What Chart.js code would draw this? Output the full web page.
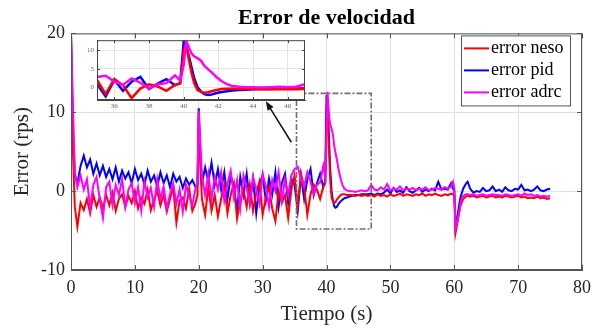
<!DOCTYPE html>
<html>
<head>
<meta charset="utf-8">
<script src="https://cdn.jsdelivr.net/npm/chart.js@4.4.1/dist/chart.umd.min.js"></script>
<style>
  body { margin: 0; background: #fff; }
  #wrap { position: relative; width: 598px; height: 326px; }
  #inset { position: absolute; left: 84px; top: 33px; }
</style>
</head>
<body>
<div id="wrap">
  <canvas id="main" width="598" height="326"></canvas>
  <canvas id="inset" width="226" height="80"></canvas>
</div>
<script>
// time base (s)
const time = [
  0, 0.3, 0.6, 1, 1.5, 2, 2.5, 3, 3.5, 4,
  4.5, 5, 5.5, 6, 6.5, 7, 7.5, 8, 8.5, 9,
  9.5, 10, 10.5, 11, 11.5, 12, 12.5, 13, 13.5, 14,
  14.5, 15, 15.5, 16, 16.5, 17, 17.5, 18, 18.5, 19,
  19.5, 19.8, 20, 20.2, 20.5, 21, 21.5, 22, 22.5, 23,
  23.5, 24, 24.5, 25, 25.5, 26, 26.5, 27, 27.5, 28,
  28.5, 29, 29.5, 30, 30.5, 31, 31.5, 32, 32.5, 33,
  33.5, 34, 34.5, 35, 35.5, 36, 36.5, 37, 37.5, 38,
  38.5, 39, 39.5, 39.8, 40, 40.15, 40.3, 40.45, 40.6, 40.8,
  41, 41.2, 41.4, 41.6, 41.9, 42.2, 42.5, 42.8, 43.2, 43.6,
  44, 44.5, 45, 45.5, 46, 46.5, 47, 47.5, 48, 48.5,
  49, 49.5, 50, 50.5, 51, 51.5, 52, 52.5, 53, 53.5,
  54, 54.5, 55, 55.5, 56, 56.5, 57, 57.5, 58, 58.5,
  59, 59.5, 59.8, 60, 60.2, 60.5, 60.8, 61, 61.4, 61.8,
  62.1, 62.5, 63, 63.5, 64, 64.5, 65, 65.5, 66, 66.5,
  67, 67.5, 68, 68.5, 69, 69.5, 70, 70.5, 71, 71.5,
  72, 72.5, 73, 73.5, 74, 74.5, 75
];

const errNeso = [
  20, 5, -2.0, -4.5, -1.5, -2.4, -1.0, -2.8, -0.5, -2.0,
  -0.8, -2.2, -0.5, -1.8, -0.2, -2.5, -1.0, -0.4, -2.0, -0.6,
  -1.5, 0.0, -2.2, -0.8, -1.6, 0.2, -2.4, -1.0, 0.0, -1.8,
  -0.5, -2.6, -1.0, 0.5, -4.0, -1.2, -0.8, -2.2, 0.3, -2.5,
  -1.5, -0.5, 10.0, 4.0, -1.0, -3.0, 0.5, -2.5, -0.5, -3.2,
  -1.0, 0.8, -2.8, -0.5, 1.0, -3.5, -1.2, 0.2, -2.0, 0.8,
  -2.5, -0.2, 1.2, -3.0, -0.8, 0.5, -2.2, -3.8, 0.0, -1.5,
  -0.5, -3.4, 0.2, 2.0, -1.9, 2.2, 0.5, -3.0, -0.4, 0.8,
  0.2, -1.0, 0.6, 1.0, 10.0, 11.8, 7.5, 4.0, 1.2, -0.8,
  -1.3, -1.5, -1.4, -1.1, -0.8, -0.5, -0.4, -0.4, -0.5, -0.5,
  -0.5, -0.6, -0.5, -0.6, -0.5, -0.6, -0.5, -0.7, -0.4, -0.6,
  -0.5, -0.7, -0.4, -0.6, -0.5, -0.3, -0.6, -0.4, -0.5, -0.6,
  -0.4, -0.5, -0.3, -0.6, -0.4, -0.5, -0.3, -0.5, -0.6, -0.4,
  -0.5, -0.3, -0.4, -0.5, -5.3, -4.0, -2.6, -1.8, -1.0, -0.7,
  -0.6, -0.7, -0.6, -0.8, -0.7, -0.6, -0.8, -0.7, -0.6, -0.8,
  -0.7, -0.8, -0.6, -0.7, -0.8, -0.7, -0.6, -0.8, -0.7, -0.9,
  -0.8, -0.9, -0.7, -0.9, -0.8, -1.0, -0.9
];

const errPid = [
  20, 8, 2.0, 1.0, 3.2, 4.5, 3.0, 4.0, 2.2, 3.5,
  2.0, 3.2, 1.8, 2.8, 1.5, 3.0, 1.2, 2.6, 1.6, 2.4,
  1.0, 2.8, 1.4, 2.2, 0.8, 2.6, 1.2, 2.0, 0.6, 2.4,
  1.0, 2.0, 0.5, 2.2, 1.2, 1.8, 0.4, 1.6, 0.8, 1.4,
  0.5, 0.8, 10.5, 5.5, 1.0, 3.0, 1.2, 3.6, 0.8, 2.8,
  0.2, 2.4, -1.0, 2.0, 0.5, -2.5, 1.8, -0.5, 2.2, -1.5,
  1.5, -2.8, 0.8, 2.0, -1.2, 1.6, -0.4, 2.4, -2.0, 1.0,
  2.2, -1.5, 1.6, 0.8, -2.5, 2.0, -1.0, 1.5, 2.8, -0.5,
  1.0, 2.2, 0.5, 1.2, 12.2, 11.0, 8.5, 5.5, 2.5, 0.0,
  -1.2, -1.9, -2.1, -2.0, -1.6, -1.3, -1.1, -0.9, -0.8, -0.7,
  -0.6, -0.5, -0.5, -0.4, -0.4, -0.4, -0.3, -0.5, -0.3, -0.4,
  -0.2, 0.2, -0.3, 0.4, -0.1, 0.1, -0.2, 0.5, 0.0, -0.2,
  0.1, 0.4, -0.1, 0.2, 0.0, 0.3, 0.1, 1.2, 0.2, 0.3,
  0.2, 1.0, 0.3, 0.2, -4.5, -3.2, -1.6, -0.7, 0.3, 0.9,
  1.2, 0.3, -0.2, 0.0, -0.1, 0.4, 0.0, 0.1, 0.6, 0.0,
  0.2, -0.1, 0.5, 0.1, 0.0, 0.3, 0.2, 0.8, 0.1, 0.2,
  0.0, 0.2, 0.6, 0.1, 0.0, 0.2, 0.3
];

const errAdrc = [
  20, 11, 2.5, 0.5, 2.0, 0.2, 1.5, -2.2, 0.8, 1.8,
  -1.0, -3.4, 0.5, 1.2, -1.8, 0.8, -0.5, 1.5, -2.0, 0.2,
  1.0, -1.5, 0.5, -2.5, 1.2, -0.8, 0.4, -2.0, 1.5, -1.0,
  0.6, -2.2, -0.4, 1.0, -1.6, 0.2, -2.6, 0.8, -0.6, -1.8,
  0.4, 1.0, 10.2, 7.0, 2.0, -0.5, 2.2, -1.0, 1.8, 0.2,
  2.4, -1.2, 1.0, 2.6, -0.8, 1.4, -2.2, 2.0, 0.4, -1.5,
  1.8, 0.2, -1.6, 2.2, 0.6, -2.0, 1.4, 0.0, 2.4, -1.2,
  1.5, -0.5, 2.0, 2.8, 3.1, 1.5, 0.6, 2.4, 1.2, -0.4,
  0.8, 1.1, 3.2, 1.8, 6.0, 12.6, 10.8, 9.2, 8.4, 7.9,
  7.2, 5.8, 4.9, 4.1, 2.7, 1.6, 0.8, 0.3, 0.1, 0.0,
  0.0, -0.1, 0.0, 0.1, 0.0, 0.1, 0.8, 0.2, 0.1, 0.5,
  0.2, 0.9, 0.1, 0.3, 0.2, 0.6, 0.1, 0.3, 0.2, 0.4,
  0.1, 0.3, 0.2, 0.5, 0.1, 0.2, 0.4, 0.3, 0.2, 0.5,
  0.3, 0.6, 1.2, 0.4, -4.7, -3.8, -2.5, -1.4, -0.6, -0.4,
  -0.4, -0.5, -0.4, -0.6, -0.5, -0.4, -0.6, -0.5, -0.4, -0.5,
  -0.5, -0.6, -0.4, -0.5, -0.6, -0.5, -0.4, -0.6, -0.3, -0.5,
  -0.4, -0.6, -0.5, -0.7, -0.6, -0.7, -0.6
];

const seriesNames = ["error neso", "error pid", "error adrc"];
const seriesColors = ["#ff0000", "#0000ff", "#ff00ff"];
const xTicksMain = [0, 10, 20, 30, 40, 50, 60, 70, 80];
const yTicksMain = [-10, 0, 10, 20];
const xTicksInset = [36, 38, 40, 42, 44, 46];
const yTicksInset = [0, 5, 10];

const serif = "'Liberation Serif', 'Times New Roman', serif";
Chart.defaults.font.family = serif;
Chart.defaults.color = "#262626";

function points(vals) {
  return time.map((t, i) => ({ x: t, y: vals[i] }));
}

function makeDatasets(width) {
  const all = [errNeso, errPid, errAdrc];
  const order = [1, 2, 0]; // adrc on top
  return all.map((vals, i) => ({
    label: seriesNames[i],
    data: points(vals),
    borderColor: seriesColors[i],
    borderWidth: width,
    pointRadius: 0,
    tension: 0,
    fill: false,
    order: order[i]
  }));
}

function fixedTicks(list) {
  return s => { s.ticks = list.map(v => ({ value: v })); };
}

// box around the plot with small inward ticks, matlab style
const framePlugin = {
  id: "frame",
  afterDraw(chart, args, opts) {
    const { ctx, chartArea: a, scales } = chart;
    const len = opts.tick || 4;
    ctx.save();
    ctx.strokeStyle = opts.color || "#555";
    ctx.lineWidth = 1;
    ctx.strokeRect(a.left + 0.5, a.top + 0.5, a.right - a.left - 1, a.bottom - a.top - 1);
    ctx.beginPath();
    scales.x.ticks.forEach(t => {
      const px = Math.round(scales.x.getPixelForValue(t.value)) + 0.5;
      ctx.moveTo(px, a.bottom); ctx.lineTo(px, a.bottom - len);
      ctx.moveTo(px, a.top); ctx.lineTo(px, a.top + len);
    });
    scales.y.ticks.forEach(t => {
      const py = Math.round(scales.y.getPixelForValue(t.value)) + 0.5;
      ctx.moveTo(a.left, py); ctx.lineTo(a.left + len, py);
      ctx.moveTo(a.right, py); ctx.lineTo(a.right - len, py);
    });
    ctx.stroke();
    ctx.restore();
  }
};

// dashed zoom box + arrow pointing to the inset
const zoomPlugin = {
  id: "zoomMark",
  afterDatasetsDraw(chart) {
    const { ctx } = chart;
    const x = chart.scales.x, y = chart.scales.y;
    const x0 = x.getPixelForValue(35.3), x1 = x.getPixelForValue(47);
    const y0 = y.getPixelForValue(12.4), y1 = y.getPixelForValue(-4.8);
    ctx.save();
    ctx.strokeStyle = "#707070";
    ctx.lineWidth = 1.6;
    ctx.setLineDash([6, 2, 2, 2]);
    ctx.strokeRect(x0, y0, x1 - x0, y1 - y0);
    ctx.setLineDash([]);

    const ax0 = x.getPixelForValue(34.5), ay0 = y.getPixelForValue(6.2);
    const ax1 = x.getPixelForValue(30.5), ay1 = y.getPixelForValue(11.4);
    const ang = Math.atan2(ay1 - ay0, ax1 - ax0);
    ctx.strokeStyle = "#111";
    ctx.fillStyle = "#111";
    ctx.lineWidth = 1.5;
    ctx.beginPath();
    ctx.moveTo(ax0, ay0);
    ctx.lineTo(ax1 - 6 * Math.cos(ang), ay1 - 6 * Math.sin(ang));
    ctx.stroke();
    ctx.beginPath();
    ctx.moveTo(ax1, ay1);
    ctx.lineTo(ax1 - 9 * Math.cos(ang) + 3.5 * Math.sin(ang), ay1 - 9 * Math.sin(ang) - 3.5 * Math.cos(ang));
    ctx.lineTo(ax1 - 9 * Math.cos(ang) - 3.5 * Math.sin(ang), ay1 - 9 * Math.sin(ang) + 3.5 * Math.cos(ang));
    ctx.closePath();
    ctx.fill();
    ctx.restore();
  }
};

// boxed legend in the upper right corner
const boxLegend = {
  id: "boxLegend",
  afterDraw(chart) {
    const { ctx, chartArea: a } = chart;
    const w = 109, h = 70;
    const left = a.right - 12 - w, top = a.top + 2;
    ctx.save();
    ctx.fillStyle = "#fff";
    ctx.fillRect(left, top, w, h);
    ctx.strokeStyle = "#555";
    ctx.lineWidth = 1;
    ctx.strokeRect(left + 0.5, top + 0.5, w, h);
    ctx.font = "18px " + serif;
    ctx.textBaseline = "middle";
    ctx.textAlign = "left";
    chart.data.datasets.forEach((ds, i) => {
      const yy = top + 13 + i * 22;
      ctx.strokeStyle = ds.borderColor;
      ctx.lineWidth = 2;
      ctx.beginPath();
      ctx.moveTo(left + 3, yy);
      ctx.lineTo(left + 28, yy);
      ctx.stroke();
      ctx.fillStyle = "#000";
      ctx.fillText(ds.label, left + 30, yy);
    });
    ctx.restore();
  }
};

const whiteArea = {
  id: "whiteArea",
  beforeDraw(chart) {
    const { ctx, chartArea: a } = chart;
    ctx.save();
    ctx.fillStyle = "#fff";
    ctx.fillRect(a.left, a.top, a.right - a.left, a.bottom - a.top);
    ctx.restore();
  }
};

new Chart(document.getElementById("main"), {
  type: "line",
  data: { datasets: makeDatasets(2) },
  plugins: [whiteArea, zoomPlugin, framePlugin, boxLegend],
  options: {
    responsive: false,
    animation: false,
    layout: { padding: { left: 0, right: 15, top: 0, bottom: 0 } },
    plugins: {
      legend: { display: false },
      tooltip: { enabled: false },
      title: {
        display: true,
        text: "Error de velocidad",
        fullSize: false,
        color: "#000",
        font: { size: 22, weight: "bold", lineHeight: 1.2 },
        padding: { top: 5, bottom: 2 }
      },
      frame: { tick: 5, color: "#555" }
    },
    scales: {
      x: {
        type: "linear",
        min: 0,
        max: 80,
        afterBuildTicks: fixedTicks(xTicksMain),
        afterFit: s => { s.height = 56; },
        grid: { color: "#e0e0e0", drawTicks: false },
        border: { color: "#555" },
        ticks: { padding: 7, font: { size: 18 }, color: "#262626", maxRotation: 0 },
        title: {
          display: true,
          text: "Tiempo (s)",
          color: "#262626",
          font: { size: 21, lineHeight: 1 },
          padding: { top: 0, bottom: 1 }
        }
      },
      y: {
        min: -10,
        max: 20,
        afterBuildTicks: fixedTicks(yTicksMain),
        afterFit: s => { s.width = 71; },
        grid: { color: "#e0e0e0", drawTicks: false },
        border: { color: "#555" },
        ticks: { padding: 6, font: { size: 18 }, color: "#262626" },
        title: {
          display: true,
          text: "Error (rps)",
          color: "#262626",
          font: { size: 21, lineHeight: 1 },
          padding: { top: 12, bottom: 0 }
        }
      }
    }
  }
});

new Chart(document.getElementById("inset"), {
  type: "line",
  data: { datasets: makeDatasets(2.5) },
  plugins: [whiteArea, framePlugin],
  options: {
    responsive: false,
    animation: false,
    layout: { padding: { left: 0, right: 5, top: 3, bottom: 0 } },
    plugins: {
      legend: { display: false },
      tooltip: { enabled: false },
      frame: { tick: 3, color: "#444" }
    },
    scales: {
      x: {
        type: "linear",
        min: 35,
        max: 47,
        afterBuildTicks: fixedTicks(xTicksInset),
        afterFit: s => { s.height = 13; },
        grid: { color: "#e4e4e4", drawTicks: false },
        border: { color: "#444" },
        ticks: { padding: 2, font: { size: 7 }, color: "#666", maxRotation: 0 }
      },
      y: {
        min: -3.5,
        max: 12.8,
        afterBuildTicks: fixedTicks(yTicksInset),
        afterFit: s => { s.width = 13; },
        grid: { color: "#e4e4e4", drawTicks: false },
        border: { color: "#444" },
        ticks: { padding: 3, font: { size: 7 }, color: "#666" }
      }
    }
  }
});
</script>
</body>
</html>
